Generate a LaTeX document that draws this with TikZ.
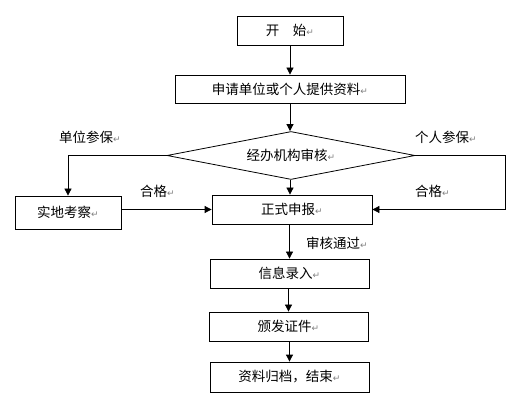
\documentclass[tikz,border=0pt]{standalone}
\usepackage{fontspec}
\setmainfont{Noto Sans CJK SC}
\newfontfamily\symfont{DejaVu Sans}
\usetikzlibrary{shapes.geometric,arrows.meta}
\newcommand{\rmk}{{\symfont\fontsize{9}{10}\selectfont\color{gray}\char"21B5}}
\tikzset{
  box/.style={draw, line width=0.8pt, rectangle, inner sep=0pt, font=\fontsize{13.5}{15}\selectfont},
  lbl/.style={inner sep=0pt, anchor=west, font=\fontsize{13.5}{15}\selectfont},
  arr/.style={line width=0.8pt, -{Triangle[length=7pt,width=7pt]}},
  ln/.style={line width=0.8pt}
}
\begin{document}
\begin{tikzpicture}[x=1pt,y=-1pt]
\useasboundingbox (0,0) rectangle (522,403);
\node[box, minimum width=106pt, minimum height=29pt] (start) at (290,30.5) {开　始\rmk};
\node[box, minimum width=230pt, minimum height=28pt] (apply) at (290,89) {申请单位或个人提供资料\rmk};
\node[draw, line width=0.8pt, diamond, aspect=5, inner sep=0pt, minimum width=248pt, minimum height=48pt, font=\fontsize{13.5}{15}\selectfont] (audit) at (291,155.5) {经办机构审核\rmk\hspace{24pt}};
\node[box, minimum width=106pt, minimum height=33pt] (survey) at (68,212.5) {实地考察\rmk};
\node[box, minimum width=160pt, minimum height=29pt] (report) at (292,209.5) {正式申报\rmk};
\node[box, minimum width=159pt, minimum height=29pt] (info) at (289.5,273.5) {信息录入\rmk};
\node[box, minimum width=159pt, minimum height=29pt] (issue) at (288.5,326.5) {颁发证件\rmk};
\node[box, minimum width=159pt, minimum height=30pt] (archive) at (289.5,377) {资料归档，结束\rmk};

\node[lbl] (lunit) at (59,137) {单位参保\rmk};
\node[lbl] (lpers) at (415,137) {个人参保\rmk};
\node[lbl] (lok1) at (140,191) {合格\rmk};
\node[lbl] (lok2) at (415,191) {合格\rmk};
\node[lbl] (lpass) at (306,243) {审核通过\rmk};

\draw[arr] (start.south) -- (apply.north);
\draw[arr] (apply.south) -- (apply.south |- audit.north);
\draw[arr] (audit.south -| 290,0) -- (report.north -| 290,0);
\draw[arr] (audit.west) -| (survey.north);
\coordinate (rturn) at (505,155.5);
\draw[arr] (audit.east) -- (rturn) |- (report.east);
\draw[arr] (survey.east |- report.west) -- (report.west);
\draw[arr] (info.north |- report.south) -- (info.north);
\draw[arr] (issue.north |- info.south) -- (issue.north);
\draw[arr] (archive.north |- issue.south) -- (archive.north);
\end{tikzpicture}
\end{document}
